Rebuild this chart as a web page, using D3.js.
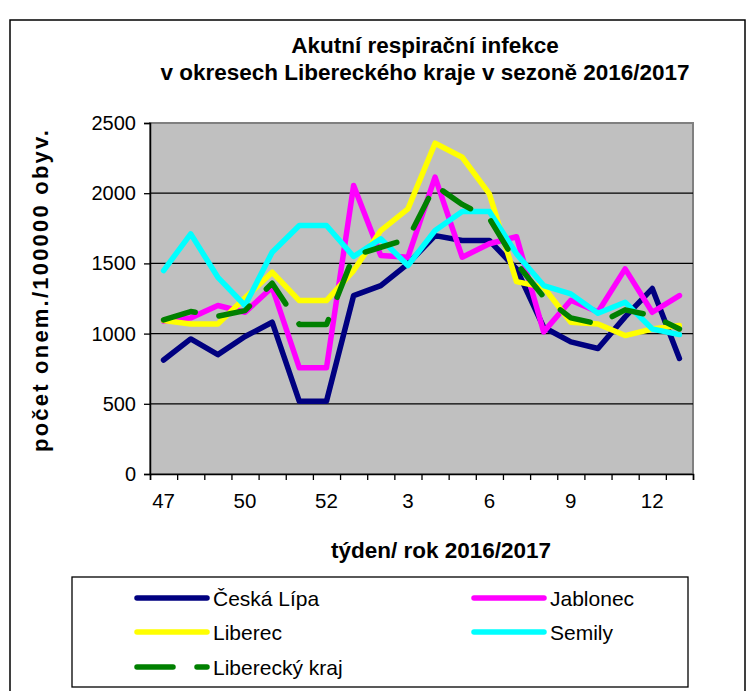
<!DOCTYPE html>
<html>
<head>
<meta charset="utf-8">
<script src="https://cdn.jsdelivr.net/npm/d3@7"></script>
<style>
  body { margin: 0; background: #fff; }
  svg text { font-family: "Liberation Sans", Arial, sans-serif; }
</style>
</head>
<body>
<div id="chart"></div>
<script>
// week numbers of the season (two points around new year both labelled 52)
var weeks = ['47', '48', '49', '50', '51', '52', '52', '1', '2', '3', '4', '5', '6', '7', '8', '9', '10', '11', '12', '13'];

var ceskaLipa = [812, 962, 850, 979, 1081, 518, 518, 1271, 1342, 1497, 1698, 1663, 1663, 1460, 1045, 941, 894, 1119, 1321, 823];
var jablonec = [1088, 1112, 1200, 1152, 1330, 756, 756, 2055, 1556, 1544, 2114, 1544, 1640, 1690, 1012, 1237, 1154, 1461, 1152, 1271];
var liberec = [1093, 1069, 1069, 1255, 1437, 1235, 1235, 1449, 1734, 1888, 2356, 2256, 1995, 1370, 1330, 1081, 1069, 986, 1033, 1057];
var semily = [1449, 1710, 1401, 1200, 1580, 1770, 1770, 1549, 1675, 1485, 1734, 1869, 1869, 1568, 1342, 1283, 1145, 1223, 1033, 993];
var liberecky = [1097, 1157, 1124, 1164, 1359, 1065, 1065, 1556, 1615, 1675, 2055, 1920, 1820, 1500, 1262, 1112, 1069, 1169, 1128, 1033];

var seriesNames = ['Česká Lípa', 'Jablonec', 'Liberec', 'Semily', 'Liberecký kraj'];
var yTicks = [0, 500, 1000, 1500, 2000, 2500];

var W = 753, H = 691;
var plot = {left: 150, right: 693, top: 123, bottom: 474};

var series = [
  {name: seriesNames[0], values: ceskaLipa, color: '#000080', dash: null},
  {name: seriesNames[1], values: jablonec, color: '#ff00ff', dash: null},
  {name: seriesNames[2], values: liberec, color: '#ffff00', dash: null},
  {name: seriesNames[3], values: semily, color: '#00ffff', dash: null},
  {name: seriesNames[4], values: liberecky, color: '#008000', dash: '33,24'}
];

var svg = d3.select('#chart').append('svg')
  .attr('width', W)
  .attr('height', H);

// outer frame
svg.append('rect')
  .attr('x', 10).attr('y', 20)
  .attr('width', 735).attr('height', 690)
  .attr('fill', '#fff')
  .attr('stroke', '#000')
  .attr('stroke-width', 1.5);

// title
var title = svg.append('text')
  .attr('text-anchor', 'middle')
  .attr('font-size', '22.5px')
  .attr('font-weight', 'bold');
title.append('tspan').attr('x', 425).attr('y', 53).text('Akutní respirační infekce');
title.append('tspan').attr('x', 425).attr('y', 80).text('v okresech Libereckého kraje v sezoně 2016/2017');

var x = d3.scaleLinear()
  .domain([0, weeks.length])
  .range([plot.left, plot.right]);

var y = d3.scaleLinear()
  .domain([0, 2500])
  .range([plot.bottom, plot.top]);

// plot area
svg.append('rect')
  .attr('x', plot.left).attr('y', plot.top)
  .attr('width', plot.right - plot.left)
  .attr('height', plot.bottom - plot.top)
  .attr('fill', '#c0c0c0')
  .attr('stroke', '#808080')
  .attr('stroke-width', 2);

// gridlines
svg.append('g')
  .selectAll('line')
  .data(yTicks.slice(1, -1))
  .enter().append('line')
  .attr('x1', plot.left).attr('x2', plot.right)
  .attr('y1', function(d) { return y(d); })
  .attr('y2', function(d) { return y(d); })
  .attr('stroke', '#000')
  .attr('stroke-width', 1.3);

// y axis
var yAxis = svg.append('g')
  .attr('transform', 'translate(' + plot.left + ',0)')
  .call(d3.axisLeft(y).tickValues(yTicks).tickFormat(d3.format('d')).tickSize(6).tickPadding(8));
yAxis.select('.domain').attr('stroke', '#000').attr('stroke-width', 1.5);
yAxis.selectAll('.tick line').attr('stroke', '#000').attr('stroke-width', 1.3);
yAxis.selectAll('text')
  .attr('font-size', '20px')
  .attr('font-family', '"Liberation Sans", Arial, sans-serif')
  .attr('fill', '#000');

// x axis: ticks between categories, labels on every third week
var xAxis = svg.append('g')
  .attr('transform', 'translate(0,' + plot.bottom + ')')
  .call(d3.axisBottom(x).tickValues(d3.range(0, weeks.length + 1)).tickSize(6).tickFormat(''));
xAxis.select('.domain').attr('stroke', '#000').attr('stroke-width', 1.5);
xAxis.selectAll('.tick line').attr('stroke', '#000').attr('stroke-width', 1.3);

svg.append('g')
  .selectAll('text')
  .data(weeks)
  .enter().append('text')
  .filter(function(d, i) { return i % 3 === 0; })
  .attr('x', function(d, i) { return x(i * 3 + 0.5); })
  .attr('y', 508)
  .attr('text-anchor', 'middle')
  .attr('font-size', '20.5px')
  .text(function(d) { return d; });

// axis titles
svg.append('text')
  .attr('x', 441).attr('y', 558)
  .attr('text-anchor', 'middle')
  .attr('font-size', '22.5px')
  .attr('font-weight', 'bold')
  .text('týden/ rok 2016/2017');

svg.append('text')
  .attr('transform', 'translate(48,291) rotate(-90)')
  .attr('text-anchor', 'middle')
  .attr('font-size', '22px')
  .attr('font-weight', 'bold')
  .attr('textLength', 322)
  .attr('lengthAdjust', 'spacing')
  .text('počet onem./100000 obyv.');

// lines
var line = d3.line()
  .x(function(d, i) { return x(i + 0.5); })
  .y(function(d) { return y(d); });

svg.append('g')
  .selectAll('path')
  .data(series)
  .enter().append('path')
  .attr('d', function(s) { return line(s.values); })
  .attr('fill', 'none')
  .attr('stroke', function(s) { return s.color; })
  .attr('stroke-width', 5.5)
  .attr('stroke-linejoin', 'round')
  .attr('stroke-linecap', 'round')
  .attr('stroke-dasharray', function(s) { return s.dash; });

// legend
svg.append('rect')
  .attr('x', 72).attr('y', 577)
  .attr('width', 616).attr('height', 110)
  .attr('fill', '#fff')
  .attr('stroke', '#000')
  .attr('stroke-width', 1.3);

var legendPos = [
  {x: 137, y: 598}, {x: 474, y: 598},
  {x: 137, y: 632}, {x: 474, y: 632},
  {x: 137, y: 667}
];

var legend = svg.append('g')
  .selectAll('g')
  .data(series)
  .enter().append('g')
  .attr('transform', function(s, i) { return 'translate(' + legendPos[i].x + ',' + legendPos[i].y + ')'; });

legend.append('line')
  .attr('x1', 0).attr('x2', 70)
  .attr('stroke', function(s) { return s.color; })
  .attr('stroke-width', 5.5)
  .attr('stroke-linecap', 'round')
  .attr('stroke-dasharray', function(s) { return s.dash ? '36,24' : null; });

legend.append('text')
  .attr('x', 76)
  .attr('y', 7.5)
  .attr('font-size', '21px')
  .text(function(s) { return s.name; });
</script>
</body>
</html>
